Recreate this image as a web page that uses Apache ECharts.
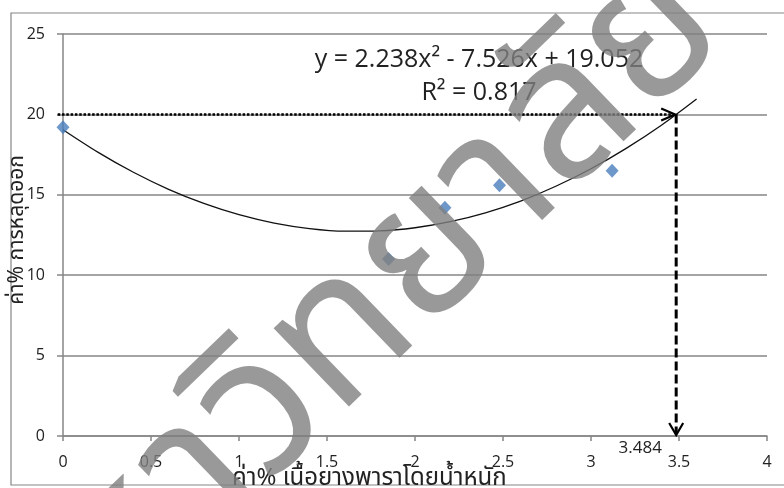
<!DOCTYPE html>
<html>
<head>
<meta charset="utf-8">
<title>ค่า% การหลุดออก</title>
<script src="https://cdn.jsdelivr.net/npm/echarts@6/dist/echarts.min.js"></script>
<style>
  html, body { margin: 0; padding: 0; background: #fff; }
  #chart { width: 784px; height: 488px; }
</style>
</head>
<body>
<div id="chart"></div>
<script>
// measured points (x = % rubber by weight, y = % detachment)
const pointX = [0, 1.85, 2.17, 2.48, 3.12];
const pointY = [19.2, 11.0, 14.2, 15.6, 16.5];

// polynomial trendline
const trendX = [0, 0.2, 0.4, 0.6, 0.8, 1.0, 1.2, 1.4, 1.6, 1.8, 2.0, 2.2, 2.4, 2.6, 2.8, 3.0, 3.2, 3.4, 3.6];
const trendY = [19.05, 17.64, 16.4, 15.34, 14.46, 13.76, 13.24, 12.9, 12.74, 12.76, 12.95, 13.33, 13.88, 14.61, 15.53, 16.62, 17.89, 19.33, 20.96];

// reading guide: y target -> x answer
const targetY = 20;
const answerX = 3.484;
const guideStartX = -0.03;

const equationText = 'y = 2.238x² - 7.526x + 19.052';
const r2Text = 'R² = 0.817';
const xName = 'ค่า% เนื้อยางพาราโดยน้ำหนัก';
const yName = 'ค่า% การหลุดออก';
const watermarkLead = 'มหา';
const watermarkText = 'มหาวิทยาลัย';

const thaiFont = '"Noto Sans Thai", "Noto Sans", sans-serif';
const numFont = '"Open Sans", Lato, sans-serif';

const chart = echarts.init(document.getElementById('chart'));

// watermark: put the "ว" where it sits in the picture, lead syllable runs off canvas
const wmSize = 198;
const wmAngle = 44 * Math.PI / 180;
const measure = document.createElement('canvas').getContext('2d');
measure.font = wmSize + 'px ' + thaiFont;
const leadWidth = measure.measureText(watermarkLead).width;
const wmX = 308 - leadWidth * Math.cos(wmAngle);
const wmY = 528 + leadWidth * Math.sin(wmAngle);

function renderGuide(params, api) {
    const start = api.coord([guideStartX, targetY]);
    const hit = api.coord([answerX, targetY]);
    const bottom = api.coord([answerX, 0]);
    const black = '#000';
    return {
        type: 'group',
        children: [
            {
                type: 'line',
                shape: { x1: start[0], y1: start[1], x2: hit[0] - 2, y2: hit[1] },
                style: { stroke: black, lineWidth: 2.5, lineDash: [2.5, 1.8] }
            },
            {
                type: 'polyline',
                shape: { points: [[hit[0] - 15, hit[1] - 6], [hit[0] - 1, hit[1]], [hit[0] - 15, hit[1] + 6]] },
                style: { stroke: black, lineWidth: 2.2, fill: null }
            },
            {
                type: 'line',
                shape: { x1: hit[0], y1: hit[1], x2: bottom[0], y2: bottom[1] - 2 },
                style: { stroke: black, lineWidth: 3, lineDash: [9, 4] }
            },
            {
                type: 'polyline',
                shape: { points: [[bottom[0] - 7, bottom[1] - 13], [bottom[0], bottom[1] - 1], [bottom[0] + 7, bottom[1] - 13]] },
                style: { stroke: black, lineWidth: 2.2, fill: null }
            },
            {
                type: 'text',
                x: bottom[0] - 36,
                y: bottom[1] + 12,
                style: {
                    text: String(answerX),
                    font: '17px ' + numFont,
                    fill: '#222',
                    textAlign: 'center',
                    textVerticalAlign: 'middle'
                }
            }
        ]
    };
}

const option = {
    animation: false,
    backgroundColor: '#fff',
    grid: { left: 63, right: 17, top: 34, bottom: 52, outerBoundsMode: 'none', containLabel: false },
    xAxis: {
        type: 'value',
        min: 0,
        max: 4,
        interval: 0.5,
        axisLine: { show: true, onZero: false, lineStyle: { color: '#868686', width: 1.5 } },
        axisTick: { show: true, length: 5, lineStyle: { color: '#868686', width: 1.5 } },
        axisLabel: { color: '#222', fontSize: 16, fontFamily: numFont, margin: 18 },
        splitLine: { show: false }
    },
    yAxis: {
        type: 'value',
        min: 0,
        max: 25,
        interval: 5,
        axisLine: { show: true, lineStyle: { color: '#868686', width: 1.5 } },
        axisTick: { show: true, length: 6, lineStyle: { color: '#868686', width: 1.5 } },
        axisLabel: { color: '#222', fontSize: 16, fontFamily: numFont, margin: 18 },
        splitLine: { show: true, lineStyle: { color: '#868686', width: 1.5 } }
    },
    series: [
        {
            name: 'trend',
            type: 'line',
            data: trendX.map((x, i) => [x, trendY[i]]),
            smooth: 0.3,
            showSymbol: false,
            lineStyle: { color: '#111', width: 1.3 },
            z: 3
        },
        {
            name: 'data',
            type: 'scatter',
            data: pointX.map((x, i) => [x, pointY[i]]),
            symbol: 'diamond',
            symbolSize: [13, 14],
            itemStyle: { color: '#4a7ebb' },
            z: 4
        },
        {
            name: 'guide',
            type: 'custom',
            data: [[answerX, targetY]],
            renderItem: renderGuide,
            clip: false,
            z: 5
        }
    ],
    graphic: [
        {
            type: 'rect',
            shape: { x: 11, y: 13, width: 790, height: 472 },
            style: { stroke: '#868686', lineWidth: 1.2, fill: null },
            silent: true,
            z: 0
        },
        {
            type: 'text',
            x: 479,
            y: 60,
            style: {
                text: equationText,
                font: '25px ' + numFont,
                fill: '#222',
                textAlign: 'center',
                textVerticalAlign: 'middle'
            },
            z: 10
        },
        {
            type: 'text',
            x: 479,
            y: 93,
            style: {
                text: r2Text,
                font: '25px ' + numFont,
                fill: '#222',
                textAlign: 'center',
                textVerticalAlign: 'middle'
            },
            z: 10
        },
        {
            type: 'text',
            x: 232,
            y: 480,
            style: {
                text: xName,
                font: '24px ' + thaiFont,
                fill: '#222',
                textAlign: 'left',
                textVerticalAlign: 'middle'
            },
            z: 10
        },
        {
            type: 'text',
            x: 19,
            y: 230,
            rotation: Math.PI / 2,
            style: {
                text: yName,
                font: '21px ' + thaiFont,
                fill: '#222',
                textAlign: 'center',
                textVerticalAlign: 'middle'
            },
            z: 10
        },
        {
            type: 'text',
            x: wmX,
            y: wmY,
            rotation: wmAngle,
            style: {
                text: watermarkText,
                font: wmSize + 'px ' + thaiFont,
                fill: '#808080',
                opacity: 0.8,
                textAlign: 'left',
                textVerticalAlign: 'bottom'
            },
            silent: true,
            z: 100
        }
    ]
};

chart.setOption(option);
</script>
</body>
</html>
